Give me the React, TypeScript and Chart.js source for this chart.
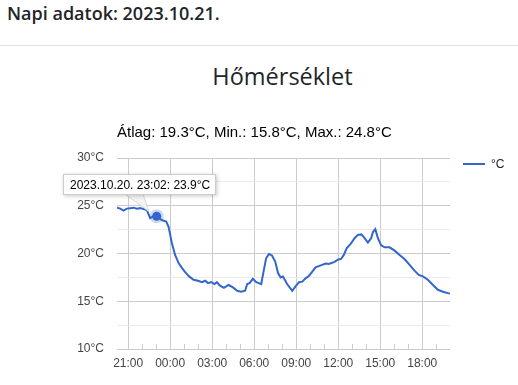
import React, { useEffect, useRef } from "react";
import { Chart, registerables } from "chart.js";

Chart.register(...registerables);

const pageTitle = "Napi adatok: 2023.10.21.";
const chartTitle = "Hőmérséklet";
const statsLine = "Átlag: 19.3°C, Min.: 15.8°C, Max.: 24.8°C";
const seriesName = "°C";
const tooltipDate = "2023.10.20.";
const tooltipIndex = 12;

// minutes relative to 2023.10.21. 00:00
const minutes = [
  -228, -214, -200, -186, -171, -157, -143, -129, -114, -100, -86, -71, -58, -36, -17, -7,
  0, 7, 21, 36, 50, 64, 81, 100, 119, 136, 150, 162, 176, 190, 200, 212, 230, 250, 269, 287,
  304, 321, 330, 340, 354, 369, 390, 400, 411, 423, 436, 450, 462, 473, 483, 501, 523, 537,
  552, 566, 580, 594, 609, 623, 645, 666, 680, 702, 719, 733, 744, 756, 773, 790, 804, 819,
  833, 847, 861, 869, 879, 890, 904, 919, 940, 962, 983, 1005, 1026, 1047, 1065, 1083, 1104,
  1126, 1147, 1169, 1190, 1199,
];
const temps = [
  24.8, 24.7, 24.5, 24.7, 24.75, 24.8, 24.7, 24.75, 24.65, 24.55, 23.7, 23.9, 23.9, 23.5, 23.35, 22.8,
  21.95, 21.1, 19.85, 19.0, 18.5, 18.05, 17.6, 17.25, 17.15, 17.0, 17.15, 16.9, 17.0, 16.8, 17.0, 16.65,
  16.4, 16.7, 16.45, 16.1, 16.0, 16.1, 16.8, 16.9, 17.35, 17.0, 16.8, 18.1, 19.5, 19.95, 19.8, 19.15,
  17.95, 17.5, 17.6, 16.8, 16.1, 16.55, 17.0, 17.05, 17.4, 17.65, 18.1, 18.55, 18.75, 18.95, 18.9, 19.1,
  19.35, 19.45, 19.85, 20.55, 21.0, 21.6, 21.95, 22.0, 21.6, 21.15, 21.6, 22.25, 22.55, 21.6, 20.85,
  20.65, 20.65, 20.3, 19.85, 19.4, 18.8, 18.2, 17.75, 17.6, 17.25, 16.7, 16.2, 16.0, 15.85, 15.8,
];
const xMin = -228;
const xMax = 1199;
const yMin = 10;
const yMax = 30;
const yStep = 2.5;
const labelEvery = 180; // minutes between labelled x ticks
const tickEvery = 60; // minutes between x tick marks

const LINE = "#3366cc";
const AXIS_FONT = "Arial, 'Liberation Sans', sans-serif";

function fmtTime(m: number): string {
  const mm = ((Math.round(m) % 1440) + 1440) % 1440;
  const h = Math.floor(mm / 60);
  const mi = mm % 60;
  return String(h).padStart(2, "0") + ":" + String(mi).padStart(2, "0");
}

const minorTickPlugin = {
  id: "minorTicks",
  afterDatasetsDraw(chart: any) {
    const xs = chart.scales.x;
    const bottom = chart.chartArea.bottom;
    const ctx = chart.ctx;
    ctx.save();
    ctx.strokeStyle = "#cccccc";
    ctx.lineWidth = 1;
    xs.ticks.forEach((t: any) => {
      if (t.value % labelEvery === 0) return;
      const x = Math.round(xs.getPixelForValue(t.value)) + 0.5;
      ctx.beginPath();
      ctx.moveTo(x, bottom);
      ctx.lineTo(x, bottom - 5);
      ctx.stroke();
    });
    ctx.restore();
  },
};

const tipPlugin = {
  id: "fixedTip",
  afterDraw(chart: any) {
    const meta = chart.getDatasetMeta(0);
    const el = meta.data[tooltipIndex];
    if (!el) return;
    const px = el.x;
    const py = el.y;
    const ctx = chart.ctx;
    ctx.save();
    // highlighted point
    ctx.beginPath();
    ctx.arc(px, py, 7, 0, Math.PI * 2);
    ctx.fillStyle = "rgba(51,102,204,0.25)";
    ctx.fill();
    ctx.beginPath();
    ctx.arc(px, py, 4.5, 0, Math.PI * 2);
    ctx.fillStyle = LINE;
    ctx.fill();

    const bx = Math.round(px - 93.5);
    const by = Math.round(py - 42.5);
    const bw = 153;
    const bh = 21;
    // tail
    ctx.beginPath();
    ctx.moveTo(bx + 62, by + bh - 1);
    ctx.lineTo(bx + 80, by + bh - 1);
    ctx.lineTo(px - 8, py - 5);
    ctx.closePath();
    ctx.fillStyle = "#f4f4f4";
    ctx.strokeStyle = "#d6d6d6";
    ctx.lineWidth = 1;
    ctx.fill();
    ctx.stroke();
    // box
    ctx.shadowColor = "rgba(0,0,0,0.22)";
    ctx.shadowBlur = 4;
    ctx.shadowOffsetX = 1;
    ctx.shadowOffsetY = 1;
    ctx.fillStyle = "#ffffff";
    ctx.fillRect(bx, by, bw, bh);
    ctx.shadowColor = "transparent";
    ctx.strokeStyle = "#cccccc";
    ctx.strokeRect(bx + 0.5, by + 0.5, bw - 1, bh - 1);
    // text
    const text = tooltipDate + " " + fmtTime(minutes[tooltipIndex]) + ": " + temps[tooltipIndex] + "°C";
    ctx.fillStyle = "#000000";
    ctx.font = "12px " + AXIS_FONT;
    ctx.textBaseline = "middle";
    ctx.textAlign = "left";
    ctx.fillText(text, bx + 7, by + bh / 2 + 1);
    ctx.restore();
  },
};

function TempChart() {
  const ref = useRef<HTMLCanvasElement | null>(null);
  useEffect(() => {
    if (!ref.current) return;
    const points = minutes.map((m, i) => ({ x: m, y: temps[i] }));
    const chart = new Chart(ref.current, {
      type: "line",
      data: {
        datasets: [
          {
            label: seriesName,
            data: points,
            borderColor: LINE,
            backgroundColor: LINE,
            borderWidth: 2,
            pointRadius: 0,
            pointHoverRadius: 0,
            tension: 0,
            fill: false,
          },
        ],
      },
      options: {
        animation: false,
        responsive: false,
        maintainAspectRatio: false,
        devicePixelRatio: 1,
        events: [],
        layout: { padding: { left: 0, right: 68, top: 58, bottom: 0 } },
        plugins: {
          legend: { display: false },
          title: { display: false },
          tooltip: { enabled: false },
        },
        scales: {
          x: {
            type: "linear",
            min: xMin,
            max: xMax,
            afterBuildTicks: (s: any) => {
              const ticks: any[] = [];
              const start = Math.ceil(xMin / tickEvery) * tickEvery;
              for (let v = start; v <= xMax; v += tickEvery) ticks.push({ value: v });
              s.ticks = ticks;
            },
            afterFit: (s: any) => {
              s.height = 36;
            },
            border: { display: false },
            grid: {
              drawTicks: false,
              color: (c: any) => (c.tick && c.tick.value % labelEvery === 0 ? "#cccccc" : "rgba(0,0,0,0)"),
              lineWidth: 1,
            },
            ticks: {
              autoSkip: false,
              maxRotation: 0,
              padding: 7,
              color: "#444444",
              font: { family: AXIS_FONT, size: 12 },
              callback: (v: any) => (Number(v) % labelEvery === 0 ? fmtTime(Number(v)) : ""),
            },
          },
          y: {
            type: "linear",
            min: yMin,
            max: yMax,
            afterFit: (s: any) => {
              s.width = 117;
            },
            border: { display: false },
            grid: {
              drawTicks: false,
              color: (c: any) => (c.tick && c.tick.value % 5 === 0 ? "#cccccc" : "#ebebeb"),
              lineWidth: 1,
            },
            ticks: {
              stepSize: yStep,
              padding: 13,
              color: "#444444",
              font: { family: AXIS_FONT, size: 12 },
              callback: (v: any) => (Number(v) % 5 === 0 ? v + "°C" : ""),
            },
          },
        },
      },
      plugins: [minorTickPlugin, tipPlugin],
    } as any);
    return () => chart.destroy();
  }, []);
  return (
    <canvas
      ref={ref}
      width={518}
      height={285}
      style={{ position: "absolute", left: 0, top: 100, width: 518, height: 285, display: "block" }}
    />
  );
}

export default function App() {
  return (
    <div
      style={{
        position: "absolute",
        left: 0,
        top: 0,
        width: 518,
        height: 385,
        background: "#ffffff",
        overflow: "hidden",
      }}
    >
      <div
        style={{
          position: "absolute",
          left: 7,
          top: 3,
          fontFamily: "'Open Sans', 'Noto Sans', sans-serif",
          fontWeight: 600,
          fontSize: 18,
          lineHeight: "21px",
          color: "#212529",
          whiteSpace: "nowrap",
        }}
      >
        {pageTitle}
      </div>
      <div style={{ position: "absolute", left: 0, top: 45, width: 518, height: 1, background: "#dee2e6" }} />
      <div
        style={{
          position: "absolute",
          left: 116,
          top: 63,
          width: 333,
          textAlign: "center",
          fontFamily: "'Open Sans', 'Noto Sans', sans-serif",
          fontSize: 23.5,
          lineHeight: "27px",
          color: "#212529",
          whiteSpace: "nowrap",
        }}
      >
        {chartTitle}
      </div>
      <TempChart />
      <div
        style={{
          position: "absolute",
          left: 117,
          top: 123,
          fontFamily: AXIS_FONT,
          fontSize: 15,
          lineHeight: "17px",
          color: "#000000",
          whiteSpace: "nowrap",
        }}
      >
        {statsLine}
      </div>
      <div style={{ position: "absolute", left: 463, top: 163, width: 22, height: 2, background: LINE }} />
      <div
        style={{
          position: "absolute",
          left: 491,
          top: 157,
          fontFamily: AXIS_FONT,
          fontSize: 12,
          lineHeight: "14px",
          color: "#222222",
          whiteSpace: "nowrap",
        }}
      >
        {seriesName}
      </div>
    </div>
  );
}
